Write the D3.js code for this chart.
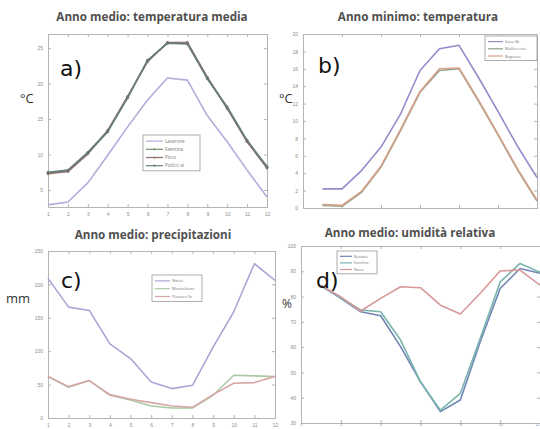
<!DOCTYPE html>
<html>
<head>
<meta charset="utf-8">
<script src="https://cdn.jsdelivr.net/npm/d3@7"></script>
<style>
  body { margin: 0; background: #fff; }
  svg { display: block; font-family: "Open Sans", "DejaVu Sans", sans-serif; }
</style>
</head>
<body>
<svg id="chart" width="540" height="429"></svg>
<script>
// ---- data ----
const months = [1, 2, 3, 4, 5, 6, 7, 8, 9, 10, 11, 12];

// a) mean year, mean temperature (°C)
const tMediaLavarone = [2.9, 3.3, 6.0, 9.9, 13.9, 17.7, 20.8, 20.5, 15.5, 11.8, 7.8, 4.0];
const tMediaFaentina = [7.4, 7.7, 10.2, 13.2, 18.1, 23.2, 25.7, 25.7, 20.8, 16.6, 11.9, 8.2];
const tMediaPisco    = [7.3, 7.6, 10.1, 13.4, 18.2, 23.1, 25.8, 25.8, 20.9, 16.5, 11.8, 8.1];
const tMediaPollicci = [7.5, 7.8, 10.3, 13.3, 18.0, 23.3, 25.7, 25.6, 20.7, 16.7, 12.0, 8.3];
const ticksA = [5, 10, 15, 20, 25];

// b) minimum year, temperature (°C)
const tMinSava     = [2.2, 2.2, 4.3, 7.0, 10.8, 15.8, 18.3, 18.7, 15.0, 11.1, 7.1, 3.5];
const tMinMalloro  = [0.3, 0.2, 1.8, 4.7, 8.9, 13.3, 15.8, 16.0, 12.3, 8.4, 4.4, 0.8];
const tMinBagnaro  = [0.4, 0.3, 1.9, 4.8, 9.0, 13.4, 16.0, 16.1, 12.4, 8.5, 4.5, 0.9];
const ticksB = [0, 2, 4, 6, 8, 10, 12, 14, 16, 18, 20];
const ticksBx = [0, 2, 4, 6, 8, 10, 12];

// c) mean year, precipitation (mm)
const precNevoi      = [209, 166, 161, 111, 89, 54, 44, 49, 106, 159, 231, 206];
const precMontaltano = [62, 46, 56, 34, 27, 18, 15, 15, 34, 64, 63, 62];
const precPianoro    = [62, 47, 56, 35, 28, 23, 18, 16, 35, 52, 53, 62];
const ticksC = [0, 50, 100, 150, 200, 250];

// d) mean year, relative humidity (%)
const urBonzato  = [84.3, 79.3, 74.0, 72.4, 60.2, 46.3, 34.5, 39.1, 62.1, 83.2, 91.1, 89.2];
const urFaentina = [84.3, 79.5, 74.7, 74.0, 62.8, 46.3, 35.1, 41.7, 63.5, 85.8, 93.1, 89.6];
const urNevoi    = [84.5, 79.9, 74.3, 79.3, 83.9, 83.5, 76.6, 73.1, 81.3, 90.1, 90.5, 84.5];
const ticksD = [30, 40, 50, 60, 70, 80, 90, 100];
const ticksDx = [0, 2, 4, 6, 8, 10, 12];

// ---- drawing ----
const W = 540;
const svg = d3.select("#chart");
const axisColor = "#b4b4b4";

function panel(cfg) {
  const g = svg.append("g");
  const x = d3.scaleLinear().domain(cfg.xDomain).range([cfg.x0, cfg.x1]);
  const y = d3.scaleLinear().domain(cfg.yDomain).range([cfg.y1, cfg.y0]);

  // frame with inward ticks on all four sides
  const bottom = d3.axisBottom(x).tickValues(cfg.xTicks).tickSize(-3).tickPadding(cfg.xPad || 5);
  const axes = [
    [bottom, `translate(0,${cfg.y1})`],
    [d3.axisTop(x).tickValues(cfg.xTicks).tickSize(-3).tickFormat(""), `translate(0,${cfg.y0})`],
    [d3.axisLeft(y).tickValues(cfg.yTicks).tickSize(-3).tickPadding(5), `translate(${cfg.x0},0)`],
    [d3.axisRight(y).tickValues(cfg.yTicks).tickSize(-3).tickFormat(""), `translate(${cfg.x1},0)`]
  ];
  axes.forEach(([ax, tr]) => {
    const a = g.append("g").attr("transform", tr).call(ax);
    a.selectAll("path, line").attr("stroke", axisColor).attr("stroke-width", 1);
    a.selectAll("text").attr("fill", "#8c8c8c").style("font-size", "5px");
    if (ax === bottom) {
      if (cfg.hideXLabels) a.selectAll("text").remove();
      if (cfg.xFont) a.selectAll("text").style("font-size", cfg.xFont);
      // keep a label that sits on the page edge inside the page
      a.selectAll(".tick").each(function (d) {
        if (x(d) > W - 4) d3.select(this).select("text").attr("text-anchor", "end").attr("x", W - 1 - x(d));
      });
    }
  });

  const line = d3.line().x((d, i) => x(months[i])).y(d => y(d));
  cfg.series.forEach(s => {
    g.append("path").datum(s.values)
      .attr("d", line)
      .attr("fill", "none")
      .attr("stroke", s.color)
      .attr("stroke-width", s.width || 1.6)
      .attr("stroke-linejoin", "round");
    if (s.marker) {
      g.selectAll(null).data(s.values).enter().append("circle")
        .attr("cx", (d, i) => x(months[i])).attr("cy", d => y(d))
        .attr("r", 1.2).attr("fill", s.color).attr("stroke", "#666").attr("stroke-width", 0.3);
    }
  });

  // title
  g.append("text").attr("x", cfg.titleX).attr("y", cfg.titleY)
    .attr("text-anchor", "middle").attr("fill", "#505050")
    .style("font-size", "11.7px").style("font-weight", "bold")
    .text(cfg.title);

  // panel letter
  g.append("text").attr("x", cfg.letterX).attr("y", cfg.letterY)
    .attr("fill", "#111").style("font-size", "22px")
    .style("font-family", "'DejaVu Sans', sans-serif")
    .text(cfg.letter);

  // unit label
  g.append("text").attr("x", cfg.unitX).attr("y", cfg.unitY)
    .attr("fill", "#333").style("font-size", cfg.unitSize || "13px")
    .text(cfg.unit);

  // legend
  const L = cfg.legend;
  const lg = g.append("g").attr("transform", `translate(${L.x},${L.y})`);
  const rowH = L.rowH;
  lg.append("rect").attr("width", L.w).attr("height", rowH * cfg.series.length + 3)
    .attr("fill", "#fff").attr("stroke", "#9a9a9a").attr("stroke-width", 0.8);
  cfg.series.forEach((s, i) => {
    const cy = 2 + rowH * i + rowH / 2;
    lg.append("line").attr("x1", 3).attr("x2", L.lineW).attr("y1", cy).attr("y2", cy)
      .attr("stroke", s.color).attr("stroke-width", 1.2);
    if (s.marker) {
      lg.append("circle").attr("cx", (3 + L.lineW) / 2).attr("cy", cy).attr("r", 1.1)
        .attr("fill", s.color);
    }
    lg.append("text").attr("x", L.lineW + 2).attr("y", cy + 1.5)
      .attr("fill", "#777").style("font-size", L.font).text(s.name);
  });
}

panel({
  title: "Anno medio: temperatura media", titleX: 152, titleY: 21,
  letter: "a)", letterX: 60, letterY: 76,
  unit: "°C", unitX: 20, unitY: 103,
  x0: 48, x1: 267, y0: 34, y1: 207,
  xDomain: [1, 12], yDomain: [2.6, 27],
  xTicks: months, yTicks: ticksA,
  series: [
    { name: "Lavarone", values: tMediaLavarone, color: "#b3abdc" },
    { name: "Faentina", values: tMediaFaentina, color: "#75906f", marker: true },
    { name: "Pisco", values: tMediaPisco, color: "#8f6f68", marker: true },
    { name: "Pollicci ai", values: tMediaPollicci, color: "#667f7c", marker: true }
  ],
  legend: { x: 143, y: 135, w: 57, rowH: 8.2, lineW: 20, font: "4.5px" }
});

panel({
  title: "Anno minimo: temperatura", titleX: 418, titleY: 21,
  letter: "b)", letterX: 318, letterY: 73,
  unit: "°C", unitX: 279, unitY: 103,
  x0: 303, x1: 537, y0: 34, y1: 208,
  xDomain: [0, 12], yDomain: [0, 20],
  xTicks: ticksBx, yTicks: ticksB, hideXLabels: true,
  series: [
    { name: "Sava Sb", values: tMinSava, color: "#8f8dcc" },
    { name: "Malloro sta", values: tMinMalloro, color: "#8fa38a" },
    { name: "Bagnaro", values: tMinBagnaro, color: "#d8a088" }
  ],
  legend: { x: 485, y: 36, w: 52, rowH: 7.2, lineW: 18, font: "4px" }
});

panel({
  title: "Anno medio: precipitazioni", titleX: 153, titleY: 239,
  letter: "c)", letterX: 61, letterY: 288,
  unit: "mm", unitX: 6, unitY: 303,
  x0: 48, x1: 275, y0: 251, y1: 418,
  xDomain: [1, 12], yDomain: [0, 250],
  xTicks: months, yTicks: ticksC,
  series: [
    { name: "Nevoi", values: precNevoi, color: "#aba5d6" },
    { name: "Montaltano", values: precMontaltano, color: "#a9c9a4" },
    { name: "Pianoro Sr", values: precPianoro, color: "#d8a6a6" }
  ],
  legend: { x: 152, y: 275, w: 50, rowH: 7.8, lineW: 18, font: "4.2px" }
});

panel({
  title: "Anno medio: umidità relativa", titleX: 410, titleY: 237,
  letter: "d)", letterX: 316, letterY: 288,
  unit: "%", unitX: 282, unitY: 308, unitSize: "12px",
  x0: 301, x1: 540, y0: 246, y1: 423,
  xDomain: [0, 12], yDomain: [30, 100],
  xTicks: ticksDx, yTicks: ticksD, xPad: 0.5, xFont: "3.8px",
  series: [
    { name: "Bonzato", values: urBonzato, color: "#6f86b4" },
    { name: "Faentina", values: urFaentina, color: "#78b5ae" },
    { name: "Nevoi", values: urNevoi, color: "#d79898" }
  ],
  legend: { x: 337, y: 251, w: 40, rowH: 6.6, lineW: 15, font: "3.6px" }
});
</script>
</body>
</html>
